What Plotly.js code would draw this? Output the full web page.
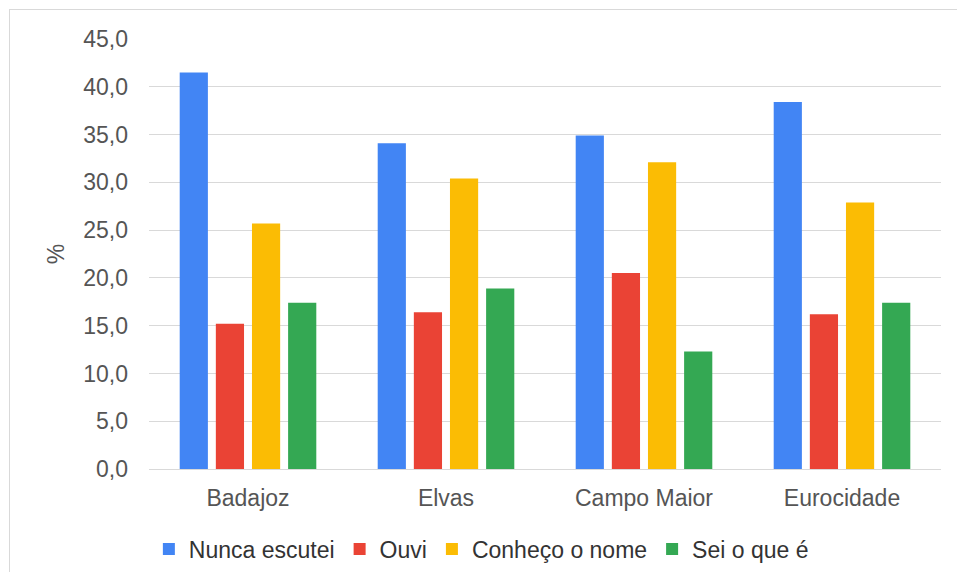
<!DOCTYPE html>
<html>
<head>
<meta charset="utf-8">
<script src="https://cdn.plot.ly/plotly-3.0.1.min.js"></script>
<style>
html,body{margin:0;padding:0;background:#fff;}
#wrap{position:relative;width:957px;height:572px;overflow:hidden;}
#chart{position:absolute;left:0;top:0;width:957px;height:572px;}
#frame{position:absolute;left:9px;top:9px;width:960px;height:600px;border-top:1px solid #d9d9d9;border-left:1px solid #d9d9d9;pointer-events:none;}
</style>
</head>
<body>
<div id="wrap"><div id="chart"></div><div id="frame"></div></div>
<script>
const categories = ["Badajoz", "Elvas", "Campo Maior", "Eurocidade"];
const seriesNames = ["Nunca escutei", "Ouvi", "Conheço o nome", "Sei o que é"];
const nuncaEscutei = [41.5, 34.1, 34.9, 38.4];
const ouvi = [15.2, 16.4, 20.5, 16.2];
const conhecoONome = [25.7, 30.4, 32.1, 27.9];
const seiOQueE = [17.4, 18.9, 12.3, 17.4];
const yTickVals = [0, 5, 10, 15, 20, 25, 30, 35, 40, 45];

const colors = ["#4285F4", "#EA4335", "#FBBC04", "#34A853"];
const allValues = [nuncaEscutei, ouvi, conhecoONome, seiOQueE];

const FONT = "Liberation Sans, Arial, sans-serif";
const FS = 23;

const traces = allValues.map((vals, i) => ({
  type: "bar",
  name: seriesNames[i],
  x: categories,
  y: vals,
  marker: {color: colors[i], line: {width: 0}},
  hoverinfo: "x+y+name"
}));

const layout = {
  width: 957,
  height: 572,
  margin: {l: 149, r: 16, t: 39, b: 103, pad: 0, autoexpand: false},
  paper_bgcolor: "#ffffff",
  plot_bgcolor: "#ffffff",
  separators: ",.",
  barmode: "group",
  bargap: 0.27,
  bargroupgap: 0.22,
  font: {family: FONT, size: FS, color: "#555555"},
  xaxis: {
    type: "category",
    showgrid: false,
    showline: false,
    zeroline: false,
    ticks: "",
    ticklabelstandoff: 13,
    tickfont: {family: FONT, size: FS, color: "#555555"},
    automargin: false,
    fixedrange: true
  },
  yaxis: {
    range: [0, 45],
    tickvals: yTickVals,
    tickformat: ".1f",
    showgrid: true,
    gridcolor: "#d9d9d9",
    gridwidth: 1,
    zeroline: true,
    zerolinecolor: "#d9d9d9",
    zerolinewidth: 1,
    showline: false,
    ticks: "",
    ticklabelstandoff: 20,
    tickfont: {family: FONT, size: FS, color: "#555555"},
    title: {text: "%", font: {family: FONT, size: FS, color: "#555555"}, standoff: 12},
    automargin: false,
    fixedrange: true
  },
  showlegend: true,
  legend: {
    orientation: "h",
    xref: "container",
    yref: "container",
    x: 0.503,
    xanchor: "center",
    y: 0.040,
    yanchor: "middle",
    font: {family: FONT, size: FS, color: "#333333"},
    itemwidth: 30,
    traceorder: "normal",
    bgcolor: "rgba(0,0,0,0)"
  }
};

Plotly.newPlot("chart", traces, layout, {displayModeBar: false, staticPlot: true});
</script>
</body>
</html>
